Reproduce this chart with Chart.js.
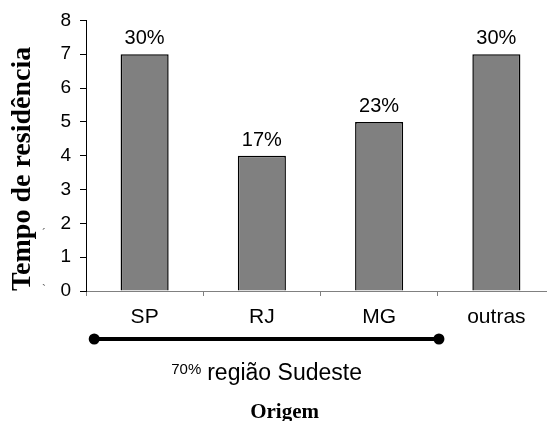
<!DOCTYPE html>
<html>
<head>
<meta charset="utf-8">
<script src="https://cdn.jsdelivr.net/npm/chart.js@4.4.1/dist/chart.umd.min.js"></script>
<style>
  html, body { margin: 0; padding: 0; background: #fff; overflow: hidden; }
  #wrap { width: 547px; height: 421px; overflow: hidden; }
  canvas { display: block; }
</style>
</head>
<body>
<div id="wrap"><canvas id="c" width="560" height="421" style="width:560px;height:421px"></canvas></div>
<script>
// Origem dos moradores: tempo de residência por estado de origem
const categories = ['SP', 'RJ', 'MG', 'outras'];
const tempoResidencia = [7, 4, 5, 7];
const percentLabels = ['30%', '17%', '23%', '30%'];
const yTickValues = [0, 1, 2, 3, 4, 5, 6, 7, 8];
const regionShare = '70%';
const regionName = 'região Sudeste';
const regionFirst = 0;   // SP
const regionLast = 2;    // MG
const xTitle = 'Origem';

const SANS = "'Liberation Sans', Arial, sans-serif";
const SERIF = "'Liberation Serif', 'Times New Roman', serif";

// percentages above each bar
const barLabels = {
  id: 'barLabels',
  afterDatasetsDraw(chart) {
    const ctx = chart.ctx;
    const meta = chart.getDatasetMeta(0);
    ctx.save();
    ctx.fillStyle = '#000';
    ctx.font = '20px ' + SANS;
    ctx.textAlign = 'center';
    ctx.textBaseline = 'alphabetic';
    meta.data.forEach((bar, i) => {
      ctx.fillText(percentLabels[i], bar.x, bar.y - 10);
    });
    ctx.restore();
  }
};

// bracket grouping the Sudeste states, its share, and the axis title below
const regionBracket = {
  id: 'regionBracket',
  afterDraw(chart) {
    const ctx = chart.ctx;
    const x = chart.scales.x;
    const x0 = x.getPixelForValue(regionFirst - 0.43);
    const x1 = x.getPixelForValue(regionLast + 0.51);
    const y = 339;
    ctx.save();
    ctx.strokeStyle = '#000';
    ctx.fillStyle = '#000';
    ctx.lineWidth = 4;
    ctx.beginPath();
    ctx.moveTo(x0, y);
    ctx.lineTo(x1, y);
    ctx.stroke();
    [x0, x1].forEach(px => {
      ctx.beginPath();
      ctx.arc(px, y, 5.5, 0, Math.PI * 2);
      ctx.fill();
    });
    ctx.textBaseline = 'alphabetic';
    ctx.textAlign = 'left';
    ctx.font = '15px ' + SANS;
    const wShare = ctx.measureText(regionShare).width;
    ctx.font = '23px ' + SANS;
    const wName = ctx.measureText(regionName).width;
    const gap = 6;
    const start = (x0 + x1) / 2 - (wShare + gap + wName) / 2;
    ctx.font = '15px ' + SANS;
    ctx.fillText(regionShare, start, 374);
    ctx.font = '23px ' + SANS;
    ctx.fillText(regionName, start + wShare + gap, 380);

    // axis title, centred under the bracket
    ctx.textAlign = 'center';
    ctx.font = 'bold 21px ' + SERIF;
    ctx.fillText(xTitle, (x0 + x1) / 2 + 18, 418);

    // small accent marks beside the vertical title
    ctx.fillStyle = '#666';
    ctx.font = '12px ' + SANS;
    ctx.fillText('\u00B4', 44, 238);
    ctx.fillText('`', 44, 294);
    ctx.restore();
  }
};

new Chart(document.getElementById('c'), {
  type: 'bar',
  data: {
    labels: categories,
    datasets: [{
      data: tempoResidencia,
      backgroundColor: '#808080',
      borderColor: '#000',
      borderWidth: 1.5,
      borderSkipped: 'bottom',
      barPercentage: 0.41,
      categoryPercentage: 1.0
    }]
  },
  options: {
    responsive: false,
    animation: false,
    events: [],
    layout: { padding: { left: 0, right: 5, top: 19, bottom: 0 } },
    plugins: {
      legend: { display: false },
      tooltip: { enabled: false }
    },
    scales: {
      x: {
        grid: {
          display: true,
          drawOnChartArea: false,
          drawTicks: true,
          tickLength: 5,
          color: '#808080',
          offset: true
        },
        border: { display: true, color: '#808080', width: 1 },
        ticks: {
          color: '#000',
          font: { family: SANS, size: 21 },
          padding: 9,
          maxRotation: 0,
          autoSkip: false
        },
        title: { display: false },
        afterFit(scale) { scale.height = 130; }
      },
      y: {
        min: 0,
        max: 8,
        afterBuildTicks(scale) { scale.ticks = yTickValues.map(v => ({ value: v })); },
        grid: {
          display: true,
          drawOnChartArea: false,
          drawTicks: true,
          tickLength: 6,
          color: '#000'
        },
        border: { display: true, color: '#000', width: 1 },
        ticks: {
          color: '#000',
          font: { family: SANS, size: 19 },
          padding: 9
        },
        title: {
          display: true,
          text: 'Tempo de residência',
          align: 'start',
          color: '#000',
          font: { family: SERIF, size: 28, weight: 'bold', lineHeight: 1.2 },
          padding: { top: 6, bottom: 0 }
        },
        afterFit(scale) { scale.width = 86; }
      }
    }
  },
  plugins: [barLabels, regionBracket]
});
</script>
</body>
</html>
